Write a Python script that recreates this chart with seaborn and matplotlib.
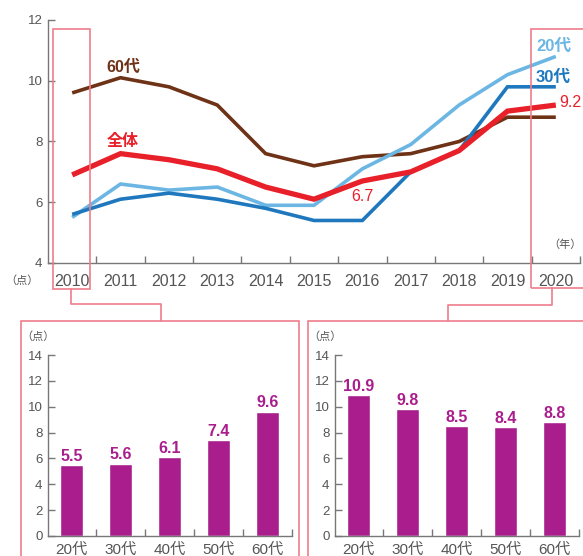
import matplotlib
matplotlib.use("Agg")
import matplotlib.pyplot as plt
from matplotlib.patches import Rectangle
from matplotlib.lines import Line2D
import seaborn as sns
import pandas as pd

# ---- data ----
years = [2010, 2011, 2012, 2013, 2014, 2015, 2016, 2017, 2018, 2019, 2020]
s60 = [9.6, 10.1, 9.8, 9.2, 7.6, 7.2, 7.5, 7.6, 8.0, 8.8, 8.8]
s_all = [6.9, 7.6, 7.4, 7.1, 6.5, 6.1, 6.7, 7.0, 7.7, 9.0, 9.2]
s20 = [5.5, 6.6, 6.4, 6.5, 5.9, 5.9, 7.1, 7.9, 9.2, 10.2, 10.8]
s30 = [5.6, 6.1, 6.3, 6.1, 5.8, 5.4, 5.4, 7.0, 7.7, 9.8, 9.8]

ages = ["20代", "30代", "40代", "50代", "60代"]
bars_2010 = [5.5, 5.6, 6.1, 7.4, 9.6]
bars_2020 = [10.9, 9.8, 8.5, 8.4, 8.8]

# ---- style ----
sns.set_style("ticks")
plt.rcParams["font.family"] = ["Liberation Sans", "Noto Sans CJK JP", "DejaVu Sans"]

BROWN = "#6e3216"
RED = "#e8202a"
LIGHT = "#6cb6e4"
BLUE = "#1f78be"
PURPLE = "#a91e8c"
PINK = "#ef7d8c"
GRAY = "#555555"
AXC = "#777777"

W, H = 583, 556
fig = plt.figure(figsize=(W / 100, H / 100), dpi=100)


def box(x0, y0, x1, y1):
    # pixel box (top-left origin) -> figure fraction rect
    return [x0 / W, 1 - y1 / H, (x1 - x0) / W, (y1 - y0) / H]


def style_axis(ax):
    sns.despine(ax=ax)
    for s in ["left", "bottom"]:
        ax.spines[s].set_color(AXC)
        ax.spines[s].set_linewidth(1.0)
    ax.tick_params(axis="y", direction="in", length=5, width=1, color=AXC,
                   labelsize=9.5, labelcolor=GRAY, pad=4)
    ax.tick_params(axis="x", which="major", length=0, labelcolor=GRAY)
    ax.tick_params(axis="x", which="minor", direction="in", length=5,
                   width=1, color=AXC)
    ax.set_facecolor("none")


# ---- top line chart ----
ax = fig.add_axes(box(48, 20, 580, 263))
df = pd.DataFrame({
    "year": years * 4,
    "value": s60 + s20 + s30 + s_all,
    "series": ["60代"] * 11 + ["20代"] * 11 + ["30代"] * 11 + ["全体"] * 11,
})
order = ["60代", "20代", "30代", "全体"]
sns.lineplot(data=df, x="year", y="value", hue="series", hue_order=order,
             palette={"60代": BROWN, "20代": LIGHT, "30代": BLUE, "全体": RED},
             size="series", size_order=order,
             sizes={"60代": 2.6, "20代": 2.6, "30代": 2.6, "全体": 3.8},
             legend=False, ax=ax)
for ln in ax.lines:
    ln.set_solid_capstyle("butt")
    ln.set_solid_joinstyle("miter")
ax.set_xlim(2009.5, 2020.5)
ax.set_ylim(4, 12)
ax.set_yticks([4, 6, 8, 10, 12])
ax.set_xticks(years)
ax.set_xticklabels([str(y) for y in years])
ax.set_xticks([y + 0.5 for y in years], minor=True)
ax.set_xlabel("")
ax.set_ylabel("")
style_axis(ax)
ax.tick_params(axis="x", which="major", labelsize=11.5, pad=8)

ax.text(2011.05, 10.45, "60代", color=BROWN, fontsize=11.5, fontweight="bold",
        ha="center", va="center")
ax.text(2011.05, 8.0, "全体", color=RED, fontsize=11.5, fontweight="bold",
        ha="center", va="center")
ax.text(2016.0, 6.2, "6.7", color=RED, fontsize=11.5, ha="center", va="center")
ax.text(2019.95, 11.15, "20代", color=LIGHT, fontsize=12, fontweight="bold",
        ha="center", va="center")
ax.text(2019.95, 10.12, "30代", color=BLUE, fontsize=12, fontweight="bold",
        ha="center", va="center")
ax.text(2020.3, 9.28, "9.2", color=RED, fontsize=11.5, ha="center",
        va="center")
fig.text(582 / W, 1 - 245 / H, "（年）", color=GRAY, fontsize=8,
         ha="right", va="center")
fig.text(22 / W, 1 - 281 / H, "（点）", color=GRAY, fontsize=8,
         ha="center", va="center")

# ---- bar charts ----
for x0, vals in [(48, bars_2010), (335, bars_2020)]:
    bx = fig.add_axes(box(x0, 355, x0 + 244, 536))
    sns.barplot(x=ages, y=vals, color=PURPLE, width=0.47, saturation=1,
                ax=bx)
    bx.bar_label(bx.containers[0], fmt="%.1f", padding=1, color=PURPLE,
                 fontsize=11.5, fontweight="bold")
    bx.set_xlim(-0.475, 4.5)
    bx.set_ylim(0, 14)
    bx.set_yticks(range(0, 15, 2))
    bx.set_xticks([i + 0.5 for i in range(5)], minor=True)
    style_axis(bx)
    bx.tick_params(axis="x", which="major", labelsize=11, pad=5)
    fig.text((x0 - 10) / W, 1 - 337 / H, "（点）", color=GRAY, fontsize=8,
             ha="center", va="center")

# ---- pink frames and connectors ----
def pink_rect(x0, y0, x1, y1):
    r = Rectangle((x0 / W, 1 - y1 / H), (x1 - x0) / W, (y1 - y0) / H,
                  transform=fig.transFigure, fill=False, edgecolor=PINK,
                  linewidth=1.2, zorder=10)
    fig.add_artist(r)


def pink_path(pts):
    xs = [p[0] / W for p in pts]
    ys = [1 - p[1] / H for p in pts]
    fig.add_artist(Line2D(xs, ys, transform=fig.transFigure, color=PINK,
                          linewidth=1.2, zorder=10))


pink_rect(53, 29, 90, 289)
pink_rect(531, 29, 590, 288)
pink_rect(21, 321, 299, 570)
pink_rect(308, 321, 590, 570)
pink_path([(71, 289), (71, 304), (161, 304), (161, 321)])
pink_path([(552, 288), (552, 305), (448, 305), (448, 321)])

fig.savefig("out.png", dpi=100)
